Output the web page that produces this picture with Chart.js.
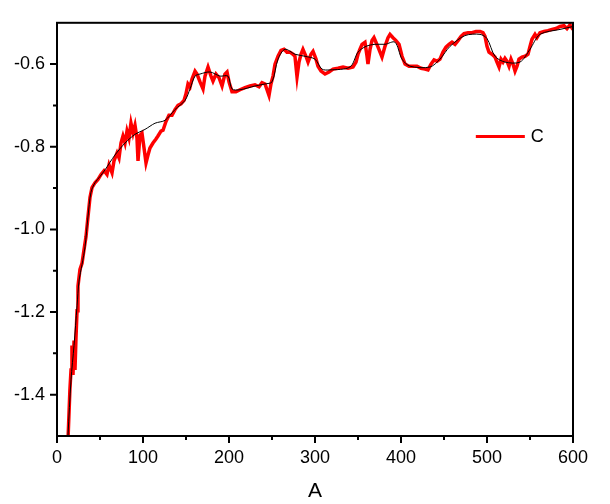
<!DOCTYPE html>
<html>
<head>
<meta charset="utf-8">
<script src="https://cdn.jsdelivr.net/npm/chart.js@4/dist/chart.umd.min.js"></script>
<style>
html,body{margin:0;padding:0;background:#fff;}
#wrap{width:610px;height:504px;}
</style>
</head>
<body>
<div id="wrap"><canvas id="c" width="610" height="504"></canvas></div>
<script>
const xTickValues = [0,100,200,300,400,500,600];
const xMinorValues = [50,150,250,350,450,550];
const yTickValues = [-0.6,-0.8,-1.0,-1.2,-1.4];
const yMinorValues = [-0.7,-0.9,-1.1,-1.3];
const xTitle = 'A';
const seriesLabel = 'C';

const redX = [13,15,16.3,17.4,18.6,19.8,20.9,22.1,23.3,24.4,26.7,29.1,31.4,33.7,36,38.4,40.7,44.2,47.7,51.2,54.7,58.1,60.5,64,66.3,69.8,72.1,74.4,76.7,79.1,81.4,83.7,86,88.4,90.7,93,94.2,96.5,98.8,101.2,103.5,105.8,108.1,111.6,115.1,117.4,120.9,123.3,126.7,130.2,133.7,137.2,140.7,144.2,147.7,150,152.3,154.7,157,160.5,162.8,166.3,169.8,172.1,175.6,179.1,181.4,184.9,188.4,191.9,195.3,197.7,200,203.5,208.1,212.8,218.6,224.4,230.2,234.9,238.4,241.9,244.2,246.5,248.8,251.2,253.5,257,260.5,264,267.4,270.9,274.4,276.7,279.1,281.4,283.7,286,289.5,291.9,295.3,297.7,301.2,303.5,307,311.6,316.3,321,326.7,332.6,338.4,344.2,347.7,350,352.3,354.7,358.1,360.5,361.6,364,366.3,368.6,370.9,373.3,375.6,377.9,381.4,384.9,387.2,390.7,394.2,397.7,401.2,404.7,409.3,414,418.6,423.3,427.9,431.4,434.9,438.4,441.9,445.3,448.8,452.3,455.8,459.3,462.8,466.3,469.8,473.3,477.9,482.6,487.2,491.9,495.3,497.7,500,502.3,505.8,509.3,511.6,514,516.3,518.6,520.9,523.3,525.6,527.9,530.2,532.6,534.9,537.2,540.7,544.2,547.7,550,552.3,555.8,558.1,561.6,566.3,570.9,575.6,580.2,584.9,589.5,593,596.5,600];
const redY = [-1.498,-1.388,-1.34,-1.281,-1.352,-1.269,-1.34,-1.261,-1.197,-1.137,-1.097,-1.082,-1.049,-1.018,-0.97,-0.922,-0.899,-0.887,-0.879,-0.867,-0.858,-0.867,-0.844,-0.863,-0.834,-0.815,-0.827,-0.791,-0.774,-0.791,-0.762,-0.779,-0.743,-0.767,-0.748,-0.779,-0.834,-0.772,-0.767,-0.803,-0.839,-0.82,-0.803,-0.791,-0.781,-0.774,-0.762,-0.76,-0.739,-0.724,-0.724,-0.71,-0.7,-0.696,-0.688,-0.672,-0.648,-0.655,-0.636,-0.617,-0.624,-0.643,-0.66,-0.629,-0.607,-0.629,-0.641,-0.624,-0.633,-0.653,-0.624,-0.619,-0.643,-0.667,-0.667,-0.662,-0.657,-0.653,-0.65,-0.655,-0.645,-0.648,-0.662,-0.676,-0.648,-0.629,-0.6,-0.581,-0.567,-0.564,-0.571,-0.571,-0.576,-0.581,-0.631,-0.595,-0.576,-0.564,-0.581,-0.595,-0.576,-0.569,-0.588,-0.605,-0.617,-0.624,-0.619,-0.612,-0.61,-0.607,-0.61,-0.607,-0.595,-0.576,-0.564,-0.552,-0.547,-0.581,-0.6,-0.564,-0.543,-0.536,-0.547,-0.559,-0.571,-0.583,-0.557,-0.536,-0.528,-0.536,-0.543,-0.552,-0.581,-0.6,-0.605,-0.605,-0.605,-0.61,-0.612,-0.614,-0.6,-0.59,-0.593,-0.588,-0.571,-0.559,-0.552,-0.547,-0.552,-0.543,-0.533,-0.526,-0.524,-0.524,-0.521,-0.521,-0.524,-0.533,-0.557,-0.571,-0.576,-0.583,-0.595,-0.607,-0.588,-0.595,-0.586,-0.593,-0.605,-0.588,-0.6,-0.617,-0.605,-0.588,-0.583,-0.581,-0.576,-0.557,-0.54,-0.528,-0.536,-0.524,-0.521,-0.519,-0.516,-0.514,-0.509,-0.507,-0.514,-0.505,-0.516];

const blackX = [12.8,16.3,19.8,23.3,25.6,29.1,32.6,36,39.5,44.2,50,55.8,67.4,79.1,90.7,102.3,114,125.6,137.2,148.8,154.7,160.5,166.3,177.9,189.5,198.8,203.5,212.8,230.2,241.9,250,257,265.1,276.7,288.4,300,308.1,317.4,340.7,350,359.3,369.8,381.4,393,401.2,410.5,433.7,445.3,457,474.4,491.9,500,509.3,520.9,538.4,550,561.6,584.9,600];
const blackY = [-1.498,-1.364,-1.281,-1.185,-1.125,-1.085,-1.042,-0.97,-0.91,-0.887,-0.872,-0.856,-0.82,-0.791,-0.77,-0.758,-0.743,-0.736,-0.71,-0.688,-0.66,-0.629,-0.624,-0.619,-0.629,-0.629,-0.66,-0.662,-0.653,-0.648,-0.643,-0.588,-0.564,-0.576,-0.581,-0.588,-0.612,-0.614,-0.607,-0.571,-0.557,-0.552,-0.552,-0.547,-0.588,-0.605,-0.607,-0.588,-0.557,-0.531,-0.528,-0.538,-0.581,-0.595,-0.595,-0.564,-0.528,-0.516,-0.509];

const redData = redX.map((x,i)=>({x:x,y:redY[i]}));
const blackData = blackX.map((x,i)=>({x:x,y:blackY[i]}));

const FONT = 'Liberation Sans, Arial, sans-serif';

const framePlugin = {
  id:'frame',
  afterDraw(chart){
    const ctx = chart.ctx, a = chart.chartArea;
    const xs = chart.scales.x, ys = chart.scales.y;
    ctx.save();
    ctx.strokeStyle = '#000';
    ctx.lineWidth = 2;
    ctx.strokeRect(a.left, a.top, a.right - a.left, a.bottom - a.top);
    ctx.beginPath();
    xTickValues.forEach(v=>{const p = xs.getPixelForValue(v); ctx.moveTo(p,a.bottom); ctx.lineTo(p,a.bottom+7);});
    xMinorValues.forEach(v=>{const p = xs.getPixelForValue(v); ctx.moveTo(p,a.bottom); ctx.lineTo(p,a.bottom+4);});
    yTickValues.forEach(v=>{const p = ys.getPixelForValue(v); ctx.moveTo(a.left,p); ctx.lineTo(a.left-7,p);});
    yMinorValues.forEach(v=>{const p = ys.getPixelForValue(v); ctx.moveTo(a.left,p); ctx.lineTo(a.left-4,p);});
    ctx.stroke();
    // legend
    const ds = chart.data.datasets[0];
    const ly = ys.getPixelForValue(-0.775);
    const lx0 = xs.getPixelForValue(487), lx1 = xs.getPixelForValue(544);
    ctx.strokeStyle = ds.borderColor;
    ctx.lineWidth = 3;
    ctx.beginPath(); ctx.moveTo(lx0, ly); ctx.lineTo(lx1, ly); ctx.stroke();
    ctx.fillStyle = '#000';
    ctx.font = '18px ' + FONT;
    ctx.textBaseline = 'middle';
    ctx.textAlign = 'left';
    ctx.fillText(ds.label, lx1 + 6, ly + 1);
    ctx.restore();
  }
};

new Chart(document.getElementById('c'), {
  type:'line',
  data:{
    datasets:[
      {label:seriesLabel, data:redData, borderColor:'#ff0000', borderWidth:3.5, pointRadius:0, tension:0, fill:false, order:2},
      {label:'fit', data:blackData, borderColor:'#000000', borderWidth:1, pointRadius:0, tension:0.3, fill:false, order:1}
    ]
  },
  options:{
    responsive:false,
    animation:false,
    devicePixelRatio:1,
    layout:{padding:{top:19,right:37,left:0,bottom:0}},
    plugins:{legend:{display:false}, tooltip:{enabled:false}},
    scales:{
      x:{
        type:'linear', min:0, max:600,
        afterBuildTicks(s){ s.ticks = xTickValues.map(v=>({value:v})); },
        afterFit(s){ s.height = 68; },
        grid:{display:false, drawTicks:false},
        border:{display:false},
        ticks:{color:'#000', font:{family:FONT, size:18}, padding:11, maxRotation:0},
        title:{display:true, text:xTitle, color:'#000', font:{family:FONT, size:21}, padding:{top:8,bottom:0}}
      },
      y:{
        type:'linear', min:-1.5, max:-0.5,
        afterBuildTicks(s){ s.ticks = yTickValues.map(v=>({value:v})); },
        afterFit(s){ s.width = 57; },
        grid:{display:false, drawTicks:false},
        border:{display:false},
        ticks:{color:'#000', font:{family:FONT, size:18}, padding:12, callback:(v)=>Number(v).toFixed(1)}
      }
    }
  },
  plugins:[framePlugin]
});
</script>
</body>
</html>
